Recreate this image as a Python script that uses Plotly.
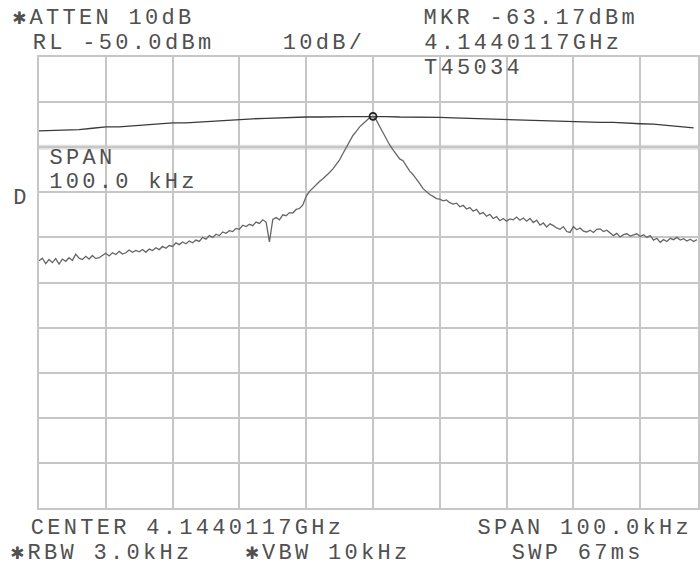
import numpy as np
import plotly.graph_objects as go

# ---- data (frequency offset from centre, kHz ; level, dBm) ----
lower_start_khz = -50.0
lower_step_khz = 0.5
lower_trace_dbm = [
    -95.2, -94.6, -95.8, -94.9, -95.6, -94.7, -95.9, -94.8, -95.3, -94.5,
    -95.1, -93.7, -94.6, -94.9, -94.2, -94.8, -94.0, -94.7, -94.5, -93.9,
    -93.5, -94.1, -93.4, -93.8, -93.1, -93.7, -93.4, -92.8, -93.3, -92.9,
    -93.2, -92.7, -93.3, -92.6, -92.9, -92.3, -92.7, -92.0, -92.4, -91.8,
    -92.0, -91.2, -91.6, -91.0, -91.4, -90.8, -91.2, -90.6, -90.9, -90.0,
    -90.4, -89.6, -90.0, -89.3, -89.6, -88.8, -89.1, -88.5, -88.7, -88.0,
    -88.2, -87.3, -87.6, -87.1, -87.4, -86.6, -86.9, -86.1, -86.6, -91.0,
    -86.0, -85.6, -86.1, -85.0, -85.2, -84.5, -84.6, -83.8, -83.6, -82.8,
    -80.9, -79.8, -79.0, -78.3, -77.6, -77.0, -76.4, -75.6, -74.8, -73.9,
    -72.8, -71.4, -70.0, -68.6, -67.4, -66.5, -65.5, -64.8, -64.1, -63.5,
    -63.17, -64.0, -65.4, -66.8, -68.2, -69.5, -70.6, -71.7, -72.6, -73.0,
    -74.2, -75.3, -76.1, -77.0, -78.1, -79.2, -79.9, -80.5, -80.9, -81.4,
    -81.5, -81.9, -81.7, -82.3, -82.6, -82.4, -83.2, -82.9, -83.7, -83.4,
    -84.2, -83.8, -84.8, -84.5, -85.3, -84.9, -85.8, -85.4, -86.3, -85.8,
    -86.4, -85.9, -86.1, -85.5, -86.2, -85.7, -86.4, -85.8, -86.7, -86.2,
    -87.3, -86.8, -87.7, -87.0, -87.4, -87.9, -88.2, -87.6, -88.7, -88.9,
    -87.6, -88.3, -87.9, -88.6, -88.8, -88.4, -88.9, -88.2, -88.1, -88.7,
    -88.4, -89.0, -89.6, -89.1, -89.9, -89.4, -89.2, -89.7, -89.5, -89.2,
    -89.8, -89.4, -90.0, -89.6, -90.6, -90.2, -91.1, -90.5, -90.9, -90.2,
    -90.5, -90.0, -90.6, -90.3, -90.8, -90.4, -90.9, -90.5,
]
upper_start_khz = -50.0
upper_step_khz = 2.0
upper_trace_dbm = [
    -66.4, -66.3, -66.1, -66.1, -65.8, -65.5, -65.5, -65.3, -65.1, -64.9,
    -64.6, -64.6, -64.4, -64.2, -64.1, -63.8, -63.7, -63.6, -63.5, -63.3,
    -63.3, -63.3, -63.2, -63.2, -63.2, -63.17, -63.2, -63.3, -63.3, -63.3,
    -63.4, -63.5, -63.6, -63.6, -63.8, -63.9, -64.0, -64.0, -64.2, -64.2,
    -64.3, -64.4, -64.5, -64.5, -64.7, -64.8, -64.9, -65.2, -65.4, -65.7,
]
marker_khz = [0.0]
marker_dbm = [-63.17]
display_line_dbm = -70.0
ref_level_dbm = -50.0
db_per_div = 10.0
span_khz = 100.0

lower_f = lower_start_khz + lower_step_khz * np.arange(len(lower_trace_dbm))
upper_f = upper_start_khz + upper_step_khz * np.arange(len(upper_trace_dbm))

W, H = 700, 567
L, T, B = 39, 57, 508
x_left = -span_khz / 2
px_per_khz = 67.0 / 10.0
x_right = x_left + (W - L) / px_per_khz

fig = go.Figure()
fig.add_shape(type="line", xref="x", yref="y", x0=x_left, x1=x_right,
              y0=display_line_dbm, y1=display_line_dbm,
              line=dict(color="#e0e0e0", width=5), layer="below")
fig.add_trace(go.Scatter(x=upper_f, y=upper_trace_dbm, mode="lines",
                         line=dict(color="#3a3a3a", width=1.3), hoverinfo="skip"))
fig.add_trace(go.Scatter(x=lower_f, y=lower_trace_dbm, mode="lines",
                         line=dict(color="#666666", width=1.3), hoverinfo="skip"))
fig.add_trace(go.Scatter(x=marker_khz, y=marker_dbm, mode="markers",
                         marker=dict(symbol="circle-open", size=7, color="#222",
                                     line=dict(color="#222", width=1.8)),
                         hoverinfo="skip"))

grid = "#c6c6c6"
fig.update_xaxes(range=[x_left, x_right], dtick=10, tick0=x_left,
                 showgrid=True, gridcolor=grid, gridwidth=2,
                 showticklabels=False, ticks="", zeroline=False,
                 showline=True, linecolor=grid, linewidth=2, mirror=True)
fig.update_yaxes(range=[ref_level_dbm - 10 * db_per_div, ref_level_dbm],
                 dtick=db_per_div, tick0=ref_level_dbm,
                 showgrid=True, gridcolor=grid, gridwidth=2,
                 showticklabels=False, ticks="", zeroline=False,
                 showline=True, linecolor=grid, linewidth=2, mirror=True)

FONT_SIZE = 22
LETTER_SPACING = 3.3
FONT = dict(family="Liberation Mono, DejaVu Sans Mono, monospace", size=FONT_SIZE, color="#505050")

def px(xp, yp):
    return (xp - L) / (W - L), (B - yp) / (B - T)

labels = [
    ("✱ATTEN 10dB", 12, 18),
    ("RL -50.0dBm", 32, 43),
    ("10dB/", 283, 43),
    ("MKR -63.17dBm", 424, 18),
    ("4.1440117GHz", 424, 43),
    ("T45034", 424, 68),
    ("SPAN", 48, 158),
    ("100.0 kHz", 48, 182),
    ("D", 12, 198),
    ("CENTER 4.1440117GHz", 30, 528),
    ("SPAN 100.0kHz", 478, 528),
    ("✱RBW 3.0kHz", 10, 553),
    ("✱VBW 10kHz", 245, 553),
    ("SWP 67ms", 512, 553),
]
for text, xp, yp in labels:
    # annotation text is centred in its box; letter-spacing widens it both ways
    ax, ay = px(xp + len(text) * LETTER_SPACING / 2, yp)
    fig.add_annotation(text=text, x=ax, y=ay, xref="paper", yref="paper",
                       xanchor="left", yanchor="middle", showarrow=False,
                       font=FONT, borderpad=0)

fig.update_layout(width=W, height=H, margin=dict(l=L, r=0, t=T, b=H - B),
                  paper_bgcolor="white", plot_bgcolor="white", showlegend=False)

post = ("document.body.style.margin='0';"
        "document.querySelectorAll('.annotation-text').forEach(function(t){"
        "t.style.letterSpacing='%spx';});" % LETTER_SPACING)
fig.write_html("out.html", post_script=post, config={"displayModeBar": False})
